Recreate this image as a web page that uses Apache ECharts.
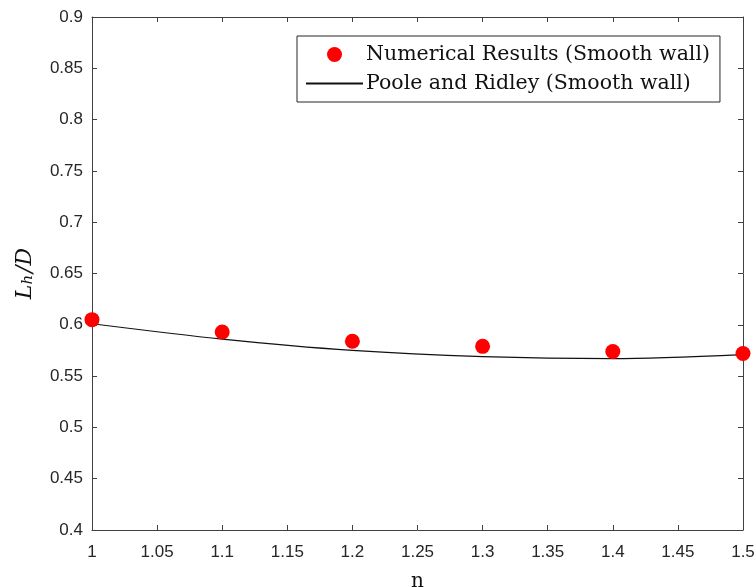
<!DOCTYPE html>
<html>
<head>
<meta charset="utf-8">
<script src="https://cdn.jsdelivr.net/npm/echarts@6/dist/echarts.min.js"></script>
<style>
  html, body { margin: 0; padding: 0; background: #fff; }
  #main { width: 756px; height: 587px; }
</style>
</head>
<body>
<div id="main"></div>
<script>
// n values (x) and L_h/D (y)
var nValues = [1.0, 1.1, 1.2, 1.3, 1.4, 1.5];
var numerical = [0.605, 0.593, 0.584, 0.579, 0.574, 0.572];
var poole = [0.601, 0.586, 0.575, 0.569, 0.567, 0.571];

var axisColor = '#404040';
var labelFont = { color: '#262626', fontSize: 17, fontFamily: 'Liberation Sans, Arial, sans-serif' };

var chart = echarts.init(document.getElementById('main'));

function pairs(xs, ys) {
    return xs.map(function (x, i) { return [x, ys[i]]; });
}

chart.setOption({
    animation: false,
    backgroundColor: '#fff',
    grid: { left: 92, right: 13, top: 17, bottom: 57, containLabel: false, outerBoundsMode: 'none' },
    legend: {
        left: 297, top: 36,
        orient: 'vertical',
        backgroundColor: '#fff',
        borderColor: '#262626',
        borderWidth: 1,
        padding: [8, 10, 8, 8],
        itemWidth: 57,
        itemHeight: 15,
        itemGap: 8,
        textStyle: { fontFamily: 'DejaVu Serif, serif', fontSize: 20.5, color: '#111', padding: [0, 0, 0, -2] },
        data: [
            { name: 'Numerical Results (Smooth wall)', icon: 'circle' },
            { name: 'Poole and Ridley (Smooth wall)', itemStyle: { opacity: 0 } }
        ]
    },
    xAxis: [{
        type: 'value', min: 1, max: 1.5, interval: 0.05,
        name: 'n', nameLocation: 'middle', nameGap: 42,
        nameTextStyle: { fontFamily: 'DejaVu Serif, serif', fontSize: 20, color: '#111' },
        axisLine: { show: true, onZero: false, lineStyle: { color: axisColor, width: 1 } },
        axisTick: { inside: true, length: 5, lineStyle: { color: axisColor } },
        axisLabel: Object.assign({ margin: 14, formatter: function (v) { return +v.toFixed(2) + ''; } }, labelFont),
        splitLine: { show: false }
    }, {
        type: 'value', min: 1, max: 1.5, interval: 0.05, position: 'top',
        axisLine: { show: true, lineStyle: { color: axisColor, width: 1 } },
        axisTick: { inside: true, length: 5, lineStyle: { color: axisColor } },
        axisLabel: { show: false },
        splitLine: { show: false }
    }],
    yAxis: [{
        type: 'value', min: 0.4, max: 0.9, interval: 0.05,
        name: '{i|L}{s|h}{i|/D}', nameLocation: 'middle', nameGap: 56, nameRotate: 90,
        nameTextStyle: {
            rich: {
                i: { fontFamily: 'DejaVu Serif, serif', fontStyle: 'italic', fontSize: 22, color: '#111', lineHeight: 26, verticalAlign: 'bottom' },
                s: { fontFamily: 'DejaVu Serif, serif', fontStyle: 'italic', fontSize: 15, color: '#111', lineHeight: 26, verticalAlign: 'bottom', padding: [6, 2, 0, 0] }
            }
        },
        axisLine: { show: true, onZero: false, lineStyle: { color: axisColor, width: 1 } },
        axisTick: { inside: true, length: 5, lineStyle: { color: axisColor } },
        axisLabel: Object.assign({ margin: 9, formatter: function (v) { return +v.toFixed(2) + ''; } }, labelFont),
        splitLine: { show: false }
    }, {
        type: 'value', min: 0.4, max: 0.9, interval: 0.05, position: 'right',
        axisLine: { show: true, lineStyle: { color: axisColor, width: 1 } },
        axisTick: { inside: true, length: 5, lineStyle: { color: axisColor } },
        axisLabel: { show: false },
        splitLine: { show: false }
    }],
    series: [{
        name: 'Numerical Results (Smooth wall)',
        type: 'scatter',
        symbol: 'circle',
        symbolSize: 15,
        itemStyle: { color: '#ff0000', opacity: 1 },
        data: pairs(nValues, numerical),
        z: 3
    }, {
        name: 'Poole and Ridley (Smooth wall)',
        type: 'line',
        symbol: 'none',
        smooth: 0.3,
        lineStyle: { color: '#111', width: 1.2 },
        itemStyle: { color: '#111' },
        data: pairs(nValues, poole),
        z: 2
    }]
});
</script>
</body>
</html>
